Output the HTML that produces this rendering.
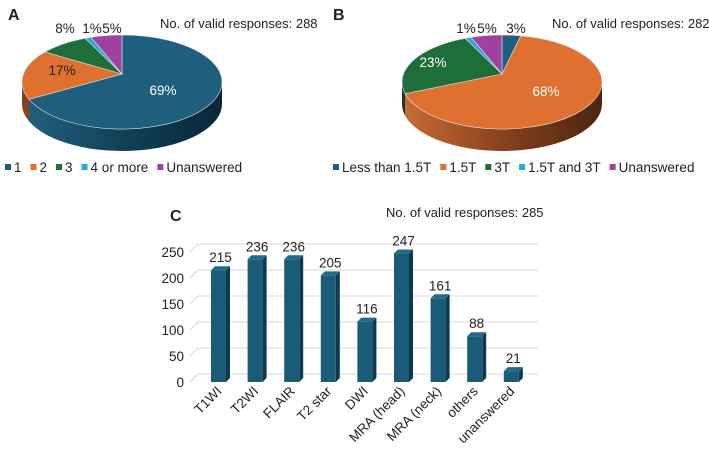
<!DOCTYPE html>
<html><head><meta charset="utf-8">
<style>
body{margin:0;background:#fff;width:709px;height:447px;overflow:hidden;font-family:"Liberation Sans",Arial,sans-serif}
svg text{font-family:"Liberation Sans",Arial,sans-serif}
</style></head>
<body>
<svg id="s" width="709" height="447" viewBox="0 0 709 447">
<defs>
<linearGradient id="gBlue" x1="0" x2="1"><stop offset="0" stop-color="#1f5f7e"/><stop offset="0.6" stop-color="#0e3a4f"/><stop offset="1" stop-color="#0a2636"/></linearGradient>
<linearGradient id="gOrange" x1="0" x2="1"><stop offset="0" stop-color="#c86a34"/><stop offset="0.6" stop-color="#7a3a1a"/><stop offset="1" stop-color="#4e2410"/></linearGradient>
</defs>
<text x="8" y="20" font-size="16" font-weight="bold" fill="#222">A</text>
<text x="333" y="20" font-size="16" font-weight="bold" fill="#222">B</text>
<text x="170" y="221" font-size="16" font-weight="bold" fill="#222">C</text>
<text x="160" y="28" font-size="13" fill="#222">No. of valid responses: 288</text>
<text x="552" y="28" font-size="13" fill="#222">No. of valid responses: 282</text>
<text x="386" y="217" font-size="13" fill="#222">No. of valid responses: 285</text>
<g id="pieA"></g><g id="pieB"></g><g id="bars"></g>
</svg>
<script>
const NS="http://www.w3.org/2000/svg";
const svg=document.getElementById('s');
function mk(tag,attrs,parent){const e=document.createElementNS(NS,tag);for(const k in attrs)e.setAttribute(k,attrs[k]);(parent||svg).appendChild(e);return e;}

// Pie A data
const pieALabels=["1","2","3","4 or more","Unanswered"];
const pieAValues=[69,17,8,1,5];
// Pie B data
const pieBLabels=["Less than 1.5T","1.5T","3T","1.5T and 3T","Unanswered"];
const pieBValues=[3,68,23,1,5];
// Bar data
const barCategories=["T1WI","T2WI","FLAIR","T2 star","DWI","MRA (head)","MRA (neck)","others","unanswered"];
const barValues=[215,236,236,205,116,247,161,88,21];
const yTicks=[0,50,100,150,200,250];

const colA=["#1f5f7e","#e0702f","#1e6e3a","#2aa8d8","#a0409f"];
const colB=["#1f5f7e","#e0702f","#1e6e3a","#2aa8d8","#a0409f"];
const sideA=["url(#gBlue)","#8a4018","#123f22","#1a6a8a","#602060"];
const sideB=["#0e3a4f","url(#gOrange)","#123f22","#1a6a8a","#602060"];

function pie(gid,cx,cy,rx,ry,depth,vals,cols,sides,labels,legendX,legendY,labPos,name){
  const g=document.getElementById(gid);
  const vy=cy-8;
  const tot=vals.reduce((a,b)=>a+b,0);
  const pt=(t,dy)=>[cx+rx*Math.sin(t),cy-ry*Math.cos(t)+(dy||0)];
  let a=0;const ranges=[];
  vals.forEach(v=>{const b=a+v/tot*2*Math.PI;ranges.push([a,b]);a=b;});
  ranges.forEach((r,i)=>{
    const s=Math.max(r[0],Math.PI/2),e=Math.min(r[1],3*Math.PI/2);
    if(e<=s)return;
    const p1=pt(s),p2=pt(e),p3=pt(e,depth),p4=pt(s,depth);
    const d=`M${p1}A${rx},${ry} 0 0 1 ${p2}L${p3}A${rx},${ry} 0 0 0 ${p4}Z`;
    const el=mk('path',{d:d,fill:sides[i]},g);
    
    
  });
  ranges.forEach((r,i)=>{
    const p1=pt(r[0]),p2=pt(r[1]);
    const large=(r[1]-r[0])>Math.PI?1:0;
    const el=mk('path',{d:`M${cx},${vy}L${p1}A${rx},${ry} 0 ${large} 1 ${p2}Z`,fill:cols[i],stroke:"#d8e4ea","stroke-width":0.6},g);
    
    
    const lp=labPos[i];
    const t=mk('text',{x:lp[0],y:lp[1],"font-size":13.5,fill:lp[2]||"#222","text-anchor":"middle"},g);
    t.textContent=vals[i]+"%";
    
    
  });
  let x=legendX;
  labels.forEach((l,i)=>{
    const r=mk('rect',{x:x,y:legendY-8,width:6,height:6,fill:cols[i]},g);
    
    
    const t=mk('text',{x:x+9,y:legendY,"font-size":13.5,fill:"#222"},g);
    t.textContent=l;
    
    
    x+=9+t.getComputedTextLength()+9;
  });
}
pie('pieA',122,82,100,47,22,pieAValues,colA,sideA,pieALabels,5,172,
  [[163,95,"#fff"],[62,75],[65,33],[92,33],[112,33]],'pie-a');
pie('pieB',502,82,100,47,22,pieBValues,colB,sideB,pieBLabels,333,172,
  [[516,33],[546,96,"#fff"],[433,67,"#fff"],[466,33],[487,33]],'pie-b');

// Bar chart
const bg=document.getElementById('bars');
const y0=382,pxPer=0.52,dx=4,dy=4;
const yS=v=>y0-v*pxPer;
const xS=i=>211+i*36.6;
yTicks.forEach(t=>{
  const y=yS(t);
  const l=mk('polyline',{points:`${190},${y} ${198},${y-8} ${538},${y-8}`,fill:"none",stroke:"#d9d9d9","stroke-width":1},bg);
  
  
  const tx=mk('text',{x:184,y:y+5,"font-size":13.5,fill:"#222","text-anchor":"end"},bg);
  tx.textContent=t;
  
  
});
barCategories.forEach((c,i)=>{
  const x=xS(i),w=15,top=yS(barValues[i]);
  const side=mk('path',{d:`M${x+w},${top}L${x+w+dx},${top-dy}L${x+w+dx},${y0-dy}L${x+w},${y0}Z`,fill:"#0d3a4e"},bg);
  
  
  const cap=mk('path',{d:`M${x},${top}L${x+dx},${top-dy}L${x+w+dx},${top-dy}L${x+w},${top}Z`,fill:"#236a88"},bg);
  
  
  const r=mk('rect',{x:x,y:top,width:w,height:y0-top,fill:"#1a5c78"},bg);
  
  
  const v=mk('text',{x:x+w/2+2,y:top-8,"font-size":13.5,fill:"#222","text-anchor":"middle"},bg);
  v.textContent=barValues[i];
  
  
  const lx=x+w/2+4,ly=y0+10;
  const t=mk('text',{x:lx,y:ly,"font-size":13.5,fill:"#222","text-anchor":"end",transform:`rotate(-45 ${lx} ${ly})`},bg);
  t.textContent=c;
  
  
});
</script>
</body></html>
